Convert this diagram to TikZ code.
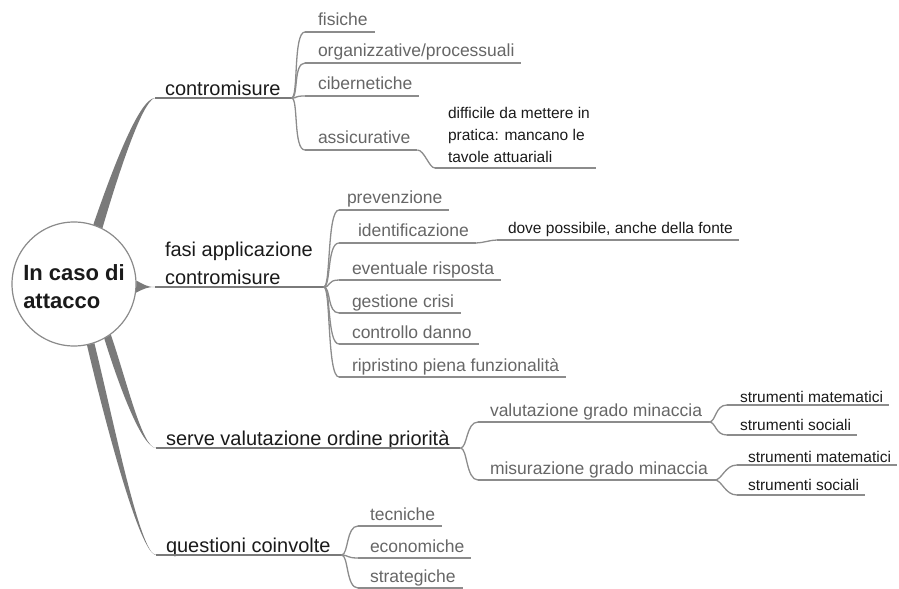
\documentclass[tikz,border=0pt]{standalone}
\usepackage{fontspec}
\setmainfont{Liberation Sans}
\definecolor{maintext}{HTML}{1A1A1A}
\definecolor{subtext}{HTML}{666666}
\definecolor{linecol}{HTML}{8C8C8C}
\definecolor{wedgecol}{HTML}{7A7A7A}
\definecolor{circcol}{HTML}{8A8A8A}
\tikzset{
  lpad/.store in=\mmlpad, rpad/.store in=\mmrpad,
  lbl/.style={anchor=south west, inner sep=0pt, outer sep=0pt,
    execute at begin node={\hspace*{\mmlpad}},
    execute at end node={\hspace*{\mmrpad}}},
  mainn/.style={lbl, font=\fontsize{20bp}{28bp}\selectfont, text=maintext, lpad=10bp, rpad=11bp, text depth=2.5bp},
  subn/.style={lbl, font=\fontsize{17.5bp}{21bp}\selectfont, text=subtext, lpad=13bp, rpad=7bp, text depth=6bp},
  smalln/.style={lbl, font=\fontsize{15.5bp}{22bp}\selectfont, text=maintext, lpad=12bp, rpad=6bp, text depth=5bp},
  mainline/.style={draw=wedgecol, line width=1.5bp},
  subline/.style={draw=linecol, line width=1.3bp},
  conn/.style={draw=linecol, line width=1.3bp},
  wedge/.style={fill=wedgecol, draw=none},
}
\begin{document}
\begin{tikzpicture}[x=1bp, y=-1bp]
\useasboundingbox (0,0) rectangle (899,589);

% root
\node[draw=circcol, line width=1.2bp, fill=white, circle, minimum size=124bp, inner sep=0pt,
  font=\bfseries\fontsize{22bp}{28bp}\selectfont, text=maintext, text height=48bp, text depth=0pt]
  (root) at (74,284) {\begin{tabular}[b]{@{}l@{}}In caso di\\attacco\end{tabular}};

% main topics
\node[mainn] (cm) at (155,98) {contromisure};
\node[mainn] (fasi) at (155,287) {\begin{tabular}[b]{@{}l@{}}fasi applicazione\\contromisure\end{tabular}};
\node[mainn] (serve) at (156,448) {serve valutazione ordine priorità};
\node[mainn] (quest) at (156,555) {questioni coinvolte};

% contromisure children
\node[subn] (fis) at (305,32) {fisiche};
\node[subn] (org) at (305,63) {organizzative/processuali};
\node[subn] (cib) at (305,96) {cibernetiche};
\node[subn] (ass) at (305,150) {assicurative};
\node[smalln, lpad=13bp] (diff) at (435,168) {\begin{tabular}[b]{@{}l@{}}difficile da mettere in\\pratica: mancano le\\tavole attuariali\end{tabular}};

% fasi children
\node[subn, lpad=8bp] (prev) at (339,210) {prevenzione};
\node[subn, lpad=19bp] (ident) at (339,243) {identificazione};
\node[smalln, lpad=11bp, text depth=6bp] (dove) at (497,240) {dove possibile, anche della fonte};
\node[subn] (evr) at (339,280) {eventuale risposta};
\node[subn] (ges) at (339,313) {gestione crisi};
\node[subn] (con) at (339,344) {controllo danno};
\node[subn] (rip) at (339,377) {ripristino piena funzionalità};

% serve children
\node[subn, lpad=12bp] (val) at (478,422) {valutazione grado minaccia};
\node[subn, lpad=12bp] (mis) at (478,480) {misurazione grado minaccia};
\node[smalln, lpad=13bp, text depth=3bp] (sma) at (727,405) {strumenti matematici};
\node[smalln, lpad=13bp] (ssa) at (727,435) {strumenti sociali};
\node[smalln, lpad=11bp, text depth=3bp] (smb) at (737,465) {strumenti matematici};
\node[smalln, lpad=11bp] (ssb) at (737,495) {strumenti sociali};

% questioni children
\node[subn, lpad=12bp] (tec) at (358,526) {tecniche};
\node[subn, lpad=12bp] (eco) at (358,558) {economiche};
\node[subn, lpad=12bp] (str) at (358,588) {strategiche};

% thick tapered branches
\fill[wedge] (root.72) .. controls +(18,-52) and +(-16,0) .. (cm.south west)
  .. controls +(-13,2) and +(14,-48) .. (root.63) -- cycle;
\fill[wedge] (root.3) .. controls +(8,4) and +(-8,0) .. (fasi.south west)
  .. controls +(-8,0) and +(8,-4) .. (root.-8) -- cycle;
\fill[wedge] (root.-54) .. controls +(16,46) and +(-14,0) .. (serve.south west)
  .. controls +(-15,-1) and +(13,42) .. (root.-61) -- cycle;
\fill[wedge] (root.-71) .. controls +(18,72) and +(-16,0) .. (quest.south west)
  .. controls +(-17,-1) and +(15,64) .. (root.-78) -- cycle;

% underlines
\foreach \n in {cm,fasi,serve,quest}
  \draw[mainline] (\n.south west) -- (\n.south east);
\foreach \n in {fis,org,cib,ass,diff,prev,ident,dove,evr,ges,con,rip,val,mis,sma,ssa,smb,ssb,tec,eco,str}
  \draw[subline] (\n.south west) -- (\n.south east);

% forks
\foreach \p/\c in {cm/fis,cm/org,cm/cib,cm/ass,
                   fasi/prev,fasi/ident,fasi/evr,fasi/ges,fasi/con,fasi/rip,
                   serve/val,serve/mis,val/sma,val/ssa,mis/smb,mis/ssb,
                   quest/tec,quest/eco,quest/str}
  \draw[conn] (\p.south east) .. controls +(7,0) and +(-12,0) .. (\c.south west);
\draw[conn] (ass.south east) .. controls +(7,0) and +(-6,0) .. (diff.south west);
\draw[conn] (ident.south east) .. controls +(7,0) and +(-7,0) .. (dove.south west);
\end{tikzpicture}
\end{document}
